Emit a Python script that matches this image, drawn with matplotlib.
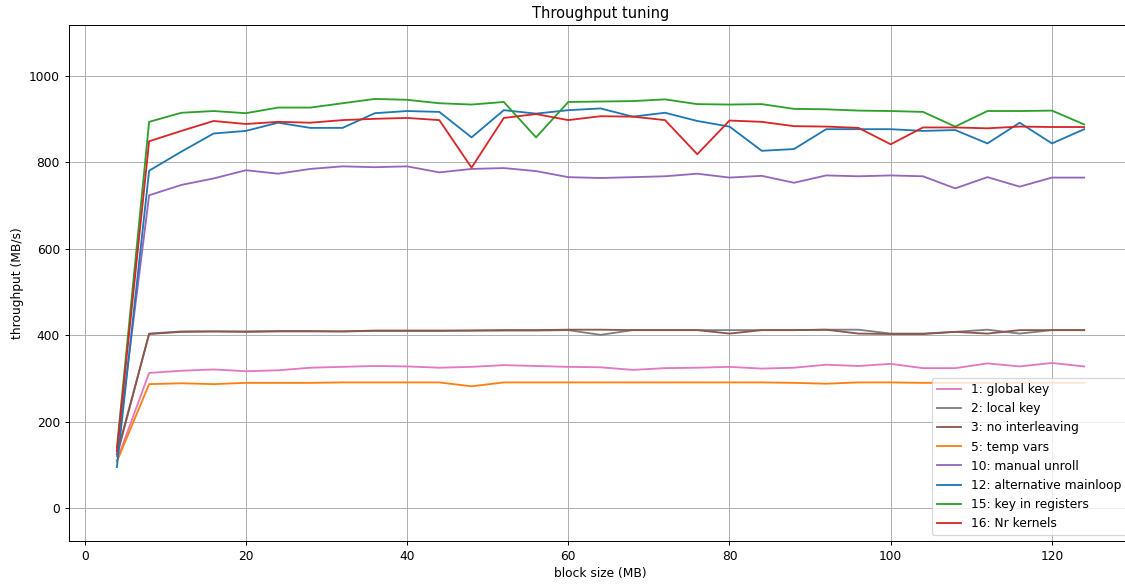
import matplotlib
matplotlib.use("Agg")
import matplotlib.pyplot as plt

block_size = list(range(4, 125, 4))

global_key = [110, 313, 318, 321, 317, 319, 325, 327, 329, 328, 325,
              327, 331, 329, 327, 326, 320, 324, 325, 327, 323, 325,
              332, 329, 334, 324, 324, 335, 328, 336, 328]
local_key = [120, 404, 409, 409, 409, 410, 410, 409, 410, 410, 410,
             411, 411, 411, 412, 401, 412, 412, 412, 412, 412, 412,
             413, 413, 404, 404, 408, 413, 404, 412, 412]
no_interleaving = [125, 403, 408, 409, 408, 409, 409, 409, 411, 411, 411,
                   411, 412, 412, 413, 413, 412, 412, 412, 404, 412, 412,
                   413, 404, 403, 403, 408, 404, 412, 412, 412]
temp_vars = [108, 287, 289, 287, 290, 290, 290, 291, 291, 291, 291,
             282, 291, 291, 291, 291, 291, 291, 291, 291, 291, 290,
             288, 291, 291, 290, 290, 290, 290, 290, 290]
manual_unroll = [128, 724, 748, 763, 782, 774, 785, 791, 789, 791, 777,
                 785, 787, 780, 766, 764, 766, 768, 774, 765, 769, 753,
                 770, 768, 770, 768, 740, 766, 744, 765, 765]
alt_mainloop = [95, 781, 825, 867, 873, 892, 880, 880, 914, 919, 917,
                858, 921, 913, 921, 925, 906, 915, 896, 883, 827, 831,
                877, 877, 877, 873, 875, 844, 892, 844, 877]
key_in_registers = [140, 894, 915, 919, 914, 927, 927, 937, 947, 945, 937,
                    934, 940, 858, 940, 941, 942, 946, 935, 934, 935, 924,
                    923, 920, 919, 917, 883, 919, 919, 920, 888]
nr_kernels = [132, 849, 873, 896, 889, 894, 892, 898, 901, 903, 898,
              788, 903, 912, 898, 907, 906, 898, 819, 897, 894, 884,
              883, 880, 842, 881, 881, 879, 883, 882, 882]

series = [
    ("1: global key", global_key, "tab:pink"),
    ("2: local key", local_key, "tab:gray"),
    ("3: no interleaving", no_interleaving, "tab:brown"),
    ("5: temp vars", temp_vars, "tab:orange"),
    ("10: manual unroll", manual_unroll, "tab:purple"),
    ("12: alternative mainloop", alt_mainloop, "tab:blue"),
    ("15: key in registers", key_in_registers, "tab:green"),
    ("16: Nr kernels", nr_kernels, "tab:red"),
]

fig = plt.figure(figsize=(1125 / 88, 585 / 88), dpi=88)
ax = fig.add_axes([0.0609, 0.0752, 0.9458, 0.882])

for label, values, color in series:
    ax.plot(block_size, values, color=color, label=label)

ax.set_xlim(-2, 130)
ax.set_ylim(-76, 1118)
ax.grid(True)
ax.set_title("Throughput tuning")
ax.set_xlabel("block size (MB)")
ax.set_ylabel("throughput (MB/s)")
ax.legend(loc="lower right")

fig.savefig("out.png", dpi=88)
